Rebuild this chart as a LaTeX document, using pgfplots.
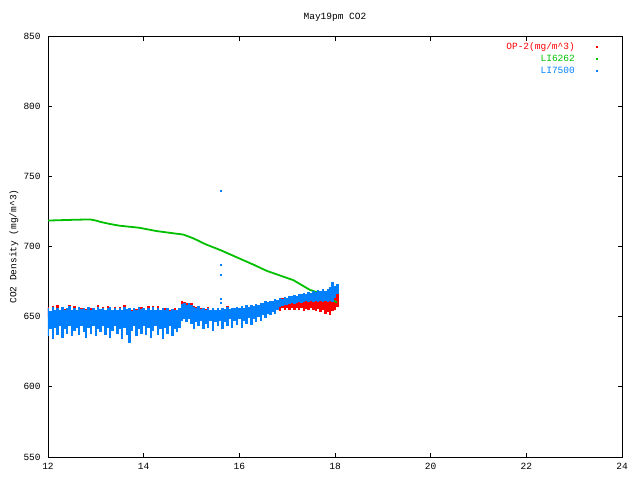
\documentclass[border=0pt]{standalone}
\usepackage{fontspec}
\setmainfont{Liberation Mono}
\usepackage{pgfplots}
\usepackage{pgfplotstable}
\pgfplotsset{compat=1.18}
\definecolor{gpred}{RGB}{255,0,0}
\definecolor{gpgreen}{RGB}{0,192,0}
\definecolor{gpblue}{RGB}{0,128,255}
\pgfplotstableread{
x bu bl ru rl
12.00 656 636 657 650
12.05 654 641 653 650
12.10 657 634 657.5 650
12.15 655 642 654 650
12.20 656.5 637 658 650
12.25 655 643 654.5 650
12.30 657 635 656 650
12.35 654.5 641 655.5 650
12.40 656 638 655 650
12.45 657.5 643 658 650
12.50 655 636 654 650
12.55 656 640 657.5 650
12.60 654.5 642 654 650
12.65 657 637 656 650
12.70 655.5 643 656.5 650
12.75 656.5 639 655.5 650
12.80 655 635 655.5 650
12.85 657 642 656 650
12.90 654.5 638 656 650
12.95 656 643 655.5 650
13.00 655 636 654 650
13.05 657 641 658 650
13.10 655.5 639 654.5 650
13.15 656.5 643 657 650
13.20 654.5 637 653.5 650
13.25 656 642 657.5 650
13.30 657 635 656.5 650
13.35 655 640 654 650
13.40 656 643 657 650
13.45 654.5 638 653.5 650
13.50 656.5 641 657 650
13.55 655 634 654 650
13.60 657 642 658.5 650
13.65 655.5 637 655 650
13.70 656 631 655 650
13.75 654 640 655 650
13.80 656.5 643 655.5 650
13.85 655 636 655.5 650
13.90 657 641 656 650
13.95 655.5 638 657 650
14.00 656 643 655.5 650
14.05 654.5 637 653.5 650
14.10 656.5 642 657.5 650
14.15 655 635 654 650
14.20 657 640 657.5 650
14.25 655 643 654 650
14.30 656 637 657.5 650
14.35 654.5 641 654 650
14.40 656.5 634 655.5 650
14.45 655 642 656 650
14.50 656 638 655 650
14.55 654 643 654.5 650
14.60 655.5 636 654.5 650
14.65 654.5 641 656 650
14.70 655 639 654.5 650
14.75 656 642 655 650
14.80 659 647 661 652
14.85 660 648 660.5 652
14.90 658.5 646 660 652
14.95 659.5 648 659 652
15.00 658 645 659.5 650
15.05 657 641 657.5 650
15.10 656 646 657 650
15.15 657.5 643 657 650
15.20 655.5 647 656.5 650
15.25 656.5 641 656 650
15.30 655 645 655.5 650
15.35 656 642 656.8 650
15.40 654.5 647 654 650
15.45 656 640 655.5 650
15.50 655 646 654.5 650
15.55 656.5 643 656 650
15.60 655 647 654.5 650
15.65 656 641 655.5 650
15.70 655.5 646 655 650
15.75 657 643 657.5 650
15.80 655.5 648 655 650
15.85 656.5 642 656 650
15.90 656 647 655.5 650
15.95 657 644 656.5 650
16.00 656 648 655.5 650
16.05 657.5 642 657 650
16.10 656.5 647 656 650
16.15 658 645 657.5 650
16.20 657 649 656.5 651
16.25 658.5 644 658 651
16.30 657.5 648 657 651
16.35 659 646 658.5 651
16.40 658.5 650 658 652
16.45 660 647 659.5 652
16.50 659.5 651 659 652
16.55 661 649 660.5 652.5
16.60 660.5 652 660 652.5
16.65 661.5 651 661 652.5
16.70 661 653.5 660.5 653
16.75 662.5 652 662 652
16.80 662 655 662 655
16.85 663 657 663 654
16.90 662.5 657.5 663 656
16.95 664 658 663 655
17.00 663.5 658.5 663 656.5
17.05 665 659 663 655
17.10 664.5 659.5 663 656
17.15 665.5 659 663 654.5
17.20 665 660 663 656
17.25 666.5 660.5 663 655
17.30 666 660 663 656.5
17.35 667 660.5 663 654
17.40 666 661 663 655.5
17.45 667.5 660.5 663 654.5
17.50 667 661 663 656
17.55 668 660.5 663 655
17.60 667.5 661 663 654
17.65 669 660.5 663 655.5
17.70 668.5 661 663 653
17.75 669.5 660.5 663 654.5
17.80 668.5 661 663 652
17.85 670 660.5 663 653.5
17.90 671 661 663 651.5
17.95 674.5 660.5 664 654
18.00 672 663 666 655
18.05 673 666 668 657
}\bands
\begin{document}
\fontsize{9.5}{11}\selectfont
\begin{tikzpicture}
\begin{axis}[
  at={(0pt,0pt)}, anchor=south west,
  width=574pt, height=421pt, scale only axis,
  xmin=12, xmax=24, ymin=550, ymax=850,
  xtick={12,14,...,24}, ytick={550,600,...,850},
  tick align=inside, major tick length=4.5pt,
  axis line style={black, line width=0.9pt},
  tick style={black, line width=0.9pt},
  /pgf/number format/assume math mode=true,
  xticklabel style={yshift=-3pt},
  yticklabel style={xshift=-4pt},
  title={May19pm CO2},
  title style={at={(axis description cs:0.5,1.031)}, anchor=center},
  ylabel={CO2 Density (mg/m\textasciicircum 3)},
  ylabel style={at={(axis description cs:-0.0592,0.5)}, anchor=center},
  legend style={at={(axis description cs:0.9568,0.9857)}, anchor=north east,
    draw=none, fill=none, inner sep=0pt, outer sep=0pt, row sep=3pt,
    nodes={inner sep=0pt, text height=7pt, text depth=2pt}},
  legend cell align=right,
  legend plot pos=right,
  legend image code/.code={\path[draw=none,fill=none] (0pt,0pt) -- (22.2pt,0pt); \fill (21.2pt,-0.5pt) rectangle (22.2pt,0.5pt);},
]
\addlegendimage{gpred}
\addlegendentry{\textcolor{gpred}{OP-2(mg/m\textasciicircum 3)}}
\addlegendimage{gpgreen}
\addlegendentry{\textcolor{gpgreen}{LI6262}}
\addlegendimage{gpblue}
\addlegendentry{\textcolor{gpblue}{LI7500}}

% OP-2: noisy band drawn as vertical segments from lower to upper envelope
\addplot[forget plot, draw=none, mark=none,
  error bars/.cd, y dir=plus, y explicit, error mark=none,
  error bar style={draw=gpred, line width=2.45pt}]
  table[x=x, y=rl, y error expr=\thisrow{ru}-\thisrow{rl}]{\bands};

\addplot[forget plot, draw=gpgreen, line width=1.8pt] coordinates {
(12.00,718.5) (12.3,718.8) (12.5,719) (12.88,719.3) (13.0,718.5) (13.1,717.5)
(13.3,716) (13.5,714.8) (13.9,713.4) (14.27,711) (14.6,709.5) (14.83,708.5)
(15.04,705.8) (15.3,701.5) (15.6,697.5) (16.0,691.5) (16.3,687) (16.57,682.7)
(16.71,681) (17.13,676) (17.48,669) (17.76,666) (18.04,660)};

\addplot[forget plot, draw=none, mark=none,
  error bars/.cd, y dir=plus, y explicit, error mark=none,
  error bar style={draw=gpblue, line width=2.45pt}]
  table[x=x, y=bl, y error expr=\thisrow{bu}-\thisrow{bl}]{\bands};

\addplot[forget plot, only marks, mark=square*, mark size=0.5pt, gpblue] coordinates {
(15.61,739.5) (15.61,687.3) (15.61,680.1) (15.61,662.5) (15.61,660.2)};
\end{axis}
\pgfresetboundingbox
\useasboundingbox (-48pt,-23pt) rectangle (592pt,457pt);
\end{tikzpicture}
\end{document}
